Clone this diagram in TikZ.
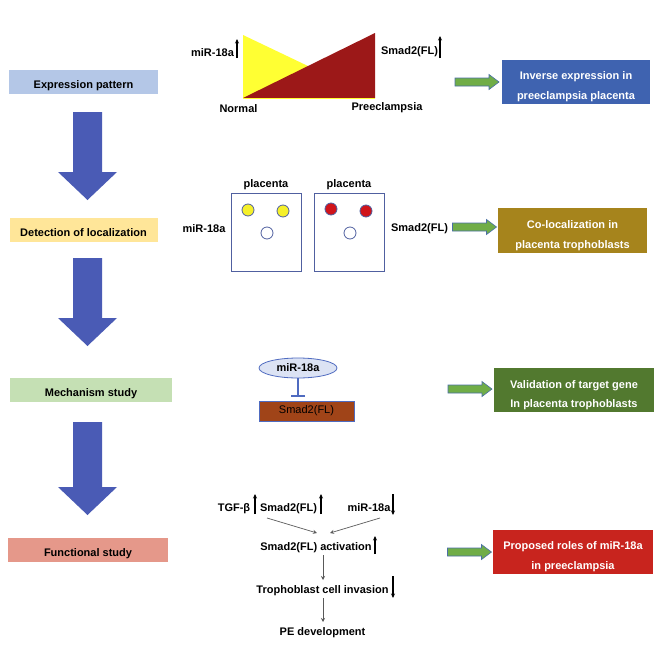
\documentclass[tikz,border=0pt]{standalone}
\usepackage{fontspec}
\setmainfont{Liberation Sans}
\usetikzlibrary{shapes.geometric,arrows.meta}
\definecolor{lblue}{HTML}{B4C7E7}
\definecolor{lyellow}{HTML}{FFE699}
\definecolor{lgreen}{HTML}{C5E0B4}
\definecolor{lsalmon}{HTML}{E5988A}
\definecolor{bigblue}{HTML}{4A5BB5}
\definecolor{inv}{HTML}{3F63B0}
\definecolor{gold}{HTML}{A6841C}
\definecolor{dgreen}{HTML}{52792F}
\definecolor{dred}{HTML}{C8241E}
\definecolor{agreen}{HTML}{70AD47}
\definecolor{aedge}{HTML}{4A6FA5}
\definecolor{tyellow}{HTML}{FFFF33}
\definecolor{tred}{HTML}{9C1818}
\definecolor{cyellow}{HTML}{F5F02A}
\definecolor{cred}{HTML}{D0141A}
\definecolor{pedge}{HTML}{5060A0}
\definecolor{efill}{HTML}{DCE3F4}
\definecolor{eedge}{HTML}{4F6BC0}
\definecolor{sbrown}{HTML}{A04418}
\begin{document}
\begin{tikzpicture}[x=1pt,y=-1pt,
  font=\fontsize{11}{13}\selectfont\bfseries,
  lbox/.style={minimum height=24, inner sep=0},
  rbox/.style={minimum height=44, inner sep=0},
  rtxt/.style={anchor=base, inner sep=0, text=white},
  lbl/.style={anchor=base, inner sep=0},
  updn/.style={line width=1.3, -{Stealth[length=4.5, width=4]}},
  flow/.style={draw=black!65, line width=0.7, -{Stealth[length=4, width=4]}},
  pbox/.style={draw=pedge, line width=1, minimum width=70, minimum height=78, inner sep=0},
  dot/.style={circle, draw=pedge, line width=0.8, minimum size=12, inner sep=0},
  pics/bigdown/.style={code={
    \fill[bigblue] (-14.5,0) -- (14.5,0) -- (14.5,#1-28) -- (29.5,#1-28) -- (0,#1)
      -- (-29.5,#1-28) -- (-14.5,#1-28) -- cycle;}},
  pics/gright/.style={code={
    \filldraw[fill=agreen, draw=aedge, line width=0.6] (-22,-4) -- (12,-4) -- (12,-7.5)
      -- (22,0) -- (12,7.5) -- (12,4) -- (-22,4) -- cycle;}}
]
\useasboundingbox (0,0) rectangle (664,664);

% left stage boxes
\node[lbox, fill=lblue, minimum width=149] (exp) at (83.5,82) {};
\node[lbl] (expt) at (83.5,88.5) {Expression pattern};
\node[lbox, fill=lyellow, minimum width=148] (det) at (83.5,230) {};
\node[lbl] (dett) at (83.5,236.5) {Detection of localization};
\node[lbox, fill=lgreen, minimum width=162] (mech) at (91,390) {};
\node[lbl] (mecht) at (91,396.5) {Mechanism study};
\node[lbox, fill=lsalmon, minimum width=160] (func) at (88,549.5) {};
\node[lbl] (funct) at (88,556) {Functional study};

% big blue arrows
\pic (ba1) at (87.5,112) {bigdown=88};
\pic (ba2) at (87.5,258) {bigdown=88};
\pic (ba3) at (87.5,422) {bigdown=93};

% right result boxes
\node[rbox, fill=inv, minimum width=148] (r1) at (576,82) {};
\node[rtxt] (r1a) at (576,79) {Inverse expression in};
\node[rtxt] (r1b) at (576,99.5) {preeclampsia placenta};
\node[rbox, fill=gold, minimum width=149, minimum height=45] (r2) at (572.5,230.5) {};
\node[rtxt] (r2a) at (572.5,228) {Co-localization in};
\node[rtxt] (r2b) at (572.5,248) {placenta trophoblasts};
\node[rbox, fill=dgreen, minimum width=160] (r3) at (574,390) {};
\node[rtxt] (r3a) at (574,388) {Validation of target gene};
\node[rtxt] (r3b) at (574,407.5) {In placenta trophoblasts};
\node[rbox, fill=dred, minimum width=160] (r4) at (573,552) {};
\node[rtxt] (r4a) at (573,549) {Proposed roles of miR-18a};
\node[rtxt] (r4b) at (573,569) {in preeclampsia};

% green arrows
\pic (g1) at (477,82) {gright};
\pic (g2) at (474.5,227) {gright};
\pic (g3) at (470,389) {gright};
\pic (g4) at (469.5,552) {gright};

% expression pattern triangles
\fill[tyellow] (243,35) -- (243,98) -- (375,98) -- cycle;
\fill[tred] (243,98) -- (375,33) -- (375,98) -- cycle;
\draw[tyellow, line width=1.5] (243,98.5) -- (375,98.5);
\node[lbl] (tmir) at (212.5,56) {miR-18a};
\node[lbl] (tsmad) at (409.5,54) {Smad2(FL)};
\node[lbl] (tnorm) at (238.5,112) {Normal};
\node[lbl] (tpre) at (387,110) {Preeclampsia};
\coordinate (ua1) at (237,58); \coordinate (ua1e) at (237,39);
\coordinate (ua2) at (440,58); \coordinate (ua2e) at (440,36);
\draw[updn] (ua1) -- (ua1e);
\draw[updn] (ua2) -- (ua2e);

% localization panels
\node[pbox] (p1) at (266,232) {};
\node[pbox] (p2) at (349,232) {};
\node[lbl] (pl1) at (266,187) {placenta};
\node[lbl] (pl2) at (349,187) {placenta};
\node[dot, fill=cyellow] (c1) at (248,210) {};
\node[dot, fill=cyellow] (c2) at (283,211) {};
\node[dot, fill=white] (c3) at (267,233) {};
\node[dot, fill=cred] (c4) at (331,209) {};
\node[dot, fill=cred] (c5) at (366,211) {};
\node[dot, fill=white] (c6) at (350,233) {};
\node[lbl] (lmir) at (204,232) {miR-18a};
\node[lbl] (lsmad) at (419.5,231) {Smad2(FL)};

% mechanism
\node[ellipse, fill=efill, draw=eedge, line width=0.8, minimum width=78, minimum height=20, inner sep=0] (me) at (298,368) {miR-18a};
\node[rectangle, fill=sbrown, draw=eedge, line width=0.6, minimum width=95, minimum height=20, inner sep=0,
  font=\fontsize{11}{13}\selectfont] (mb) at (306.5,411) {Smad2(FL)};
\draw[eedge, line width=1.6, -{Bar[width=14, line width=1.6]}, shorten >=4] (me.south) -- (me.south |- mb.north);

% functional
\node[lbl] (ftgf) at (234,511) {TGF-β};
\node[lbl] (fsmad) at (288.5,511) {Smad2(FL)};
\node[lbl] (fmir) at (369,511) {miR-18a};
\node[lbl] (fact) at (316,550) {Smad2(FL) activation};
\node[lbl] (finv) at (322.5,593) {Trophoblast cell invasion};
\node[lbl] (fpe) at (322.5,635) {PE development};
\coordinate (fu1) at (255,514); \coordinate (fu1e) at (255,494);
\coordinate (fu2) at (321,514); \coordinate (fu2e) at (321,494);
\coordinate (fd1) at (393,494); \coordinate (fd1e) at (393,515);
\coordinate (fu3) at (375,554); \coordinate (fu3e) at (375,536);
\coordinate (fd2) at (393,576); \coordinate (fd2e) at (393,598);
\draw[updn] (fu1) -- (fu1e);
\draw[updn] (fu2) -- (fu2e);
\draw[updn] (fd1) -- (fd1e);
\draw[updn] (fu3) -- (fu3e);
\draw[updn] (fd2) -- (fd2e);
\coordinate (cv1) at (267,518); \coordinate (cv1e) at (317,533);
\coordinate (cv2) at (380,518); \coordinate (cv2e) at (330,533);
\draw[flow] (cv1) -- (cv1e);
\draw[flow] (cv2) -- (cv2e);
\coordinate (d1) at (323,555); \coordinate (d1e) at (323,580);
\coordinate (d2) at (323,598); \coordinate (d2e) at (323,622);
\draw[flow] (d1) -- (d1e);
\draw[flow] (d2) -- (d2e);
\end{tikzpicture}
\end{document}
